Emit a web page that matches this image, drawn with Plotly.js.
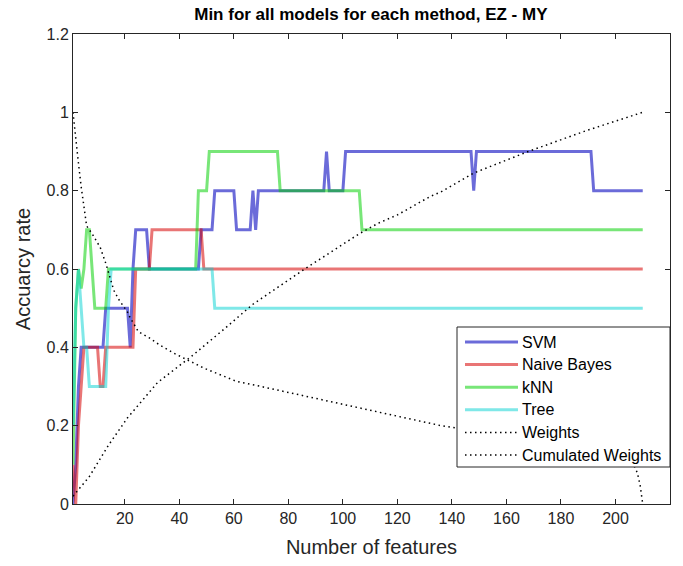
<!DOCTYPE html>
<html>
<head>
<meta charset="utf-8">
<script src="https://cdn.plot.ly/plotly-3.0.1.min.js"></script>
<style>html,body{margin:0;padding:0;background:#fff;}#chart{width:683px;height:566px;}</style>
</head>
<body>
<div id="chart"></div>
<script>
// Step series: feature index where the value changes, and the value
const svmX = [1,2,3,4,12,13,21,22,23,24,28,29,47,48,52,53,60,61,66,67,68,69,93,94,95,100,101,147,148,149,191,192,210];
const svmY = [0,0.1,0.3,0.4,0.4,0.5,0.5,0.4,0.6,0.7,0.7,0.6,0.6,0.7,0.7,0.8,0.8,0.7,0.7,0.8,0.7,0.8,0.8,0.9,0.8,0.8,0.9,0.9,0.8,0.9,0.9,0.8,0.8];

const nbX = [1,2,3,4,5,10,11,12,13,23,24,29,30,48,49,210];
const nbY = [0.1,0,0.2,0.3,0.4,0.4,0.3,0.3,0.4,0.4,0.6,0.6,0.7,0.7,0.6,0.6];

const knnX = [1,2,3,4,5,6,7,8,9,13,14,46,47,50,51,76,77,106,107,210];
const knnY = [0.1,0.5,0.6,0.55,0.6,0.7,0.7,0.6,0.5,0.5,0.6,0.6,0.8,0.8,0.9,0.9,0.8,0.8,0.7,0.7];

const treeX = [1,2,3,4,5,6,7,13,14,15,52,53,210];
const treeY = [0.2,0.5,0.6,0.5,0.4,0.4,0.3,0.3,0.5,0.6,0.6,0.5,0.5];

const weightsX = [1,2,3,4,5,6,8,11,13,15,16,18,21,22,25,29,33,38,43,49,55,61,70,80,90,100,110,120,130,136,150,170,190,207,208,209,210];
const weightsY = [1.0,0.93,0.87,0.81,0.76,0.71,0.69,0.655,0.615,0.57,0.545,0.52,0.49,0.475,0.44,0.424,0.405,0.385,0.367,0.347,0.33,0.313,0.30,0.285,0.27,0.255,0.24,0.225,0.21,0.20,0.185,0.16,0.13,0.095,0.08,0.05,0.0];

const cumX = [1,7,14,21,32,45,57,67,86,106,113,120,132,136,148,168,190,210];
const cumY = [0.02,0.07,0.15,0.22,0.31,0.38,0.45,0.51,0.60,0.69,0.717,0.738,0.785,0.797,0.845,0.90,0.955,1.0];

const names = ['SVM','Naive Bayes','kNN','Tree','Weights','Cumulated Weights'];
const xTicks = [20,40,60,80,100,120,140,160,180,200,220];
const yTicks = [0,0.2,0.4,0.6,0.8,1,1.2];

const FONT = 'Liberation Sans, Arial, sans-serif';
const DOT = '1.5px,3.5px';
const styles = [
  {color: 'rgba(0,0,190,0.58)', width: 3},
  {color: 'rgba(214,0,0,0.54)', width: 3},
  {color: 'rgba(0,208,0,0.53)', width: 3},
  {color: 'rgba(0,209,209,0.5)', width: 3},
  {color: '#000', width: 1.5, dash: DOT},
  {color: '#000', width: 1.5, dash: DOT}
];
const xs = [svmX, nbX, knnX, treeX, weightsX, cumX];
const ys = [svmY, nbY, knnY, treeY, weightsY, cumY];

const traces = names.map((n, i) => ({type: 'scatter', mode: 'lines', name: n, x: xs[i], y: ys[i], line: styles[i]}));

// Plot area in pixels (for the hand-drawn legend box)
const M = {l: 73, r: 13, t: 34, b: 62};
const W = 683, H = 566;
const pw = W - M.l - M.r, ph = H - M.t - M.b;
const px = p => (p - M.l) / pw;
const py = p => (H - M.b - p) / ph;

const shapes = [{type: 'rect', xref: 'paper', yref: 'paper', x0: px(457), x1: px(670), y0: py(467), y1: py(327),
                 line: {color: '#262626', width: 1}, fillcolor: '#fff', layer: 'above'}];
const annotations = [];
names.forEach((n, i) => {
  const yy = 342 + 22.6 * i;
  shapes.push({type: 'line', xref: 'paper', yref: 'paper', x0: px(465), x1: px(518), y0: py(yy), y1: py(yy),
               line: Object.assign({}, styles[i]), layer: 'above'});
  annotations.push({xref: 'paper', yref: 'paper', x: px(520), y: py(yy), xanchor: 'left', yanchor: 'middle',
                    text: n, showarrow: false, font: {family: FONT, size: 16, color: '#000'}});
});

const axisCommon = {
  showline: true, linecolor: '#262626', linewidth: 1, mirror: 'ticks',
  ticks: 'inside', ticklen: 5, tickcolor: '#262626', tickwidth: 1,
  showgrid: false, zeroline: false,
  tickfont: {family: FONT, size: 16, color: '#262626'}
};

const layout = {
  width: W, height: H, margin: M,
  paper_bgcolor: '#fff', plot_bgcolor: '#fff',
  font: {family: FONT, color: '#262626'},
  title: {text: '<b>Min for all models for each method, EZ - MY</b>', x: 0.543, xanchor: 'center', y: 0.975, yanchor: 'middle',
          font: {size: 17, color: '#000', family: 'Liberation Sans Narrow, Arial Narrow, Liberation Sans, sans-serif'}},
  xaxis: Object.assign({}, axisCommon, {range: [1, 220], tickvals: xTicks, ticktext: xTicks.map(String),
          title: {text: 'Number of features', font: {size: 20, color: '#262626'}, standoff: 13}}),
  yaxis: Object.assign({}, axisCommon, {range: [0, 1.2], tickvals: yTicks, ticktext: yTicks.map(String),
          title: {text: 'Accuarcy rate', font: {size: 20, color: '#262626'}, standoff: 10}}),
  showlegend: false,
  shapes: shapes,
  annotations: annotations
};

Plotly.newPlot('chart', traces, layout, {displayModeBar: false, staticPlot: true});
</script>
</body>
</html>
